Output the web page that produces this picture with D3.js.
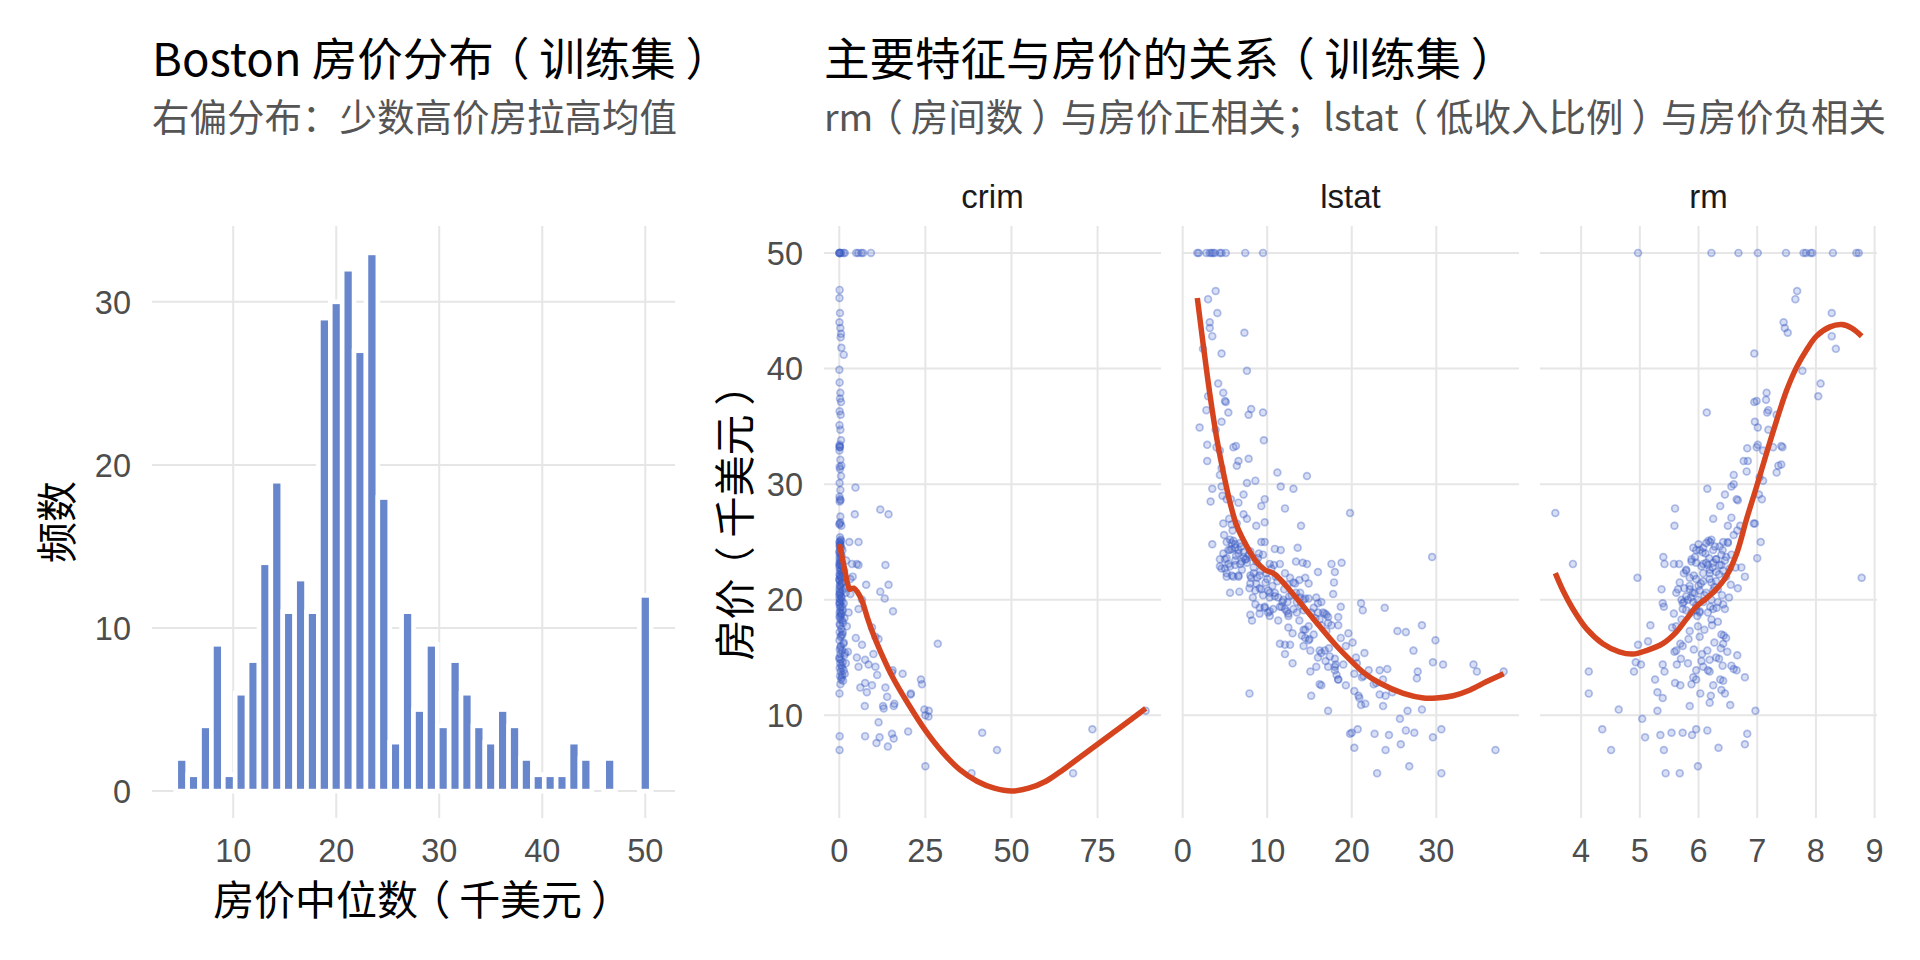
<!DOCTYPE html>
<html><head><meta charset="utf-8">
<script src="https://cdn.jsdelivr.net/npm/d3@7"></script>
<style>body{margin:0;background:#fff}svg{display:block}.pa{font-feature-settings:"palt" 1}</style>
</head><body><svg id="c" width="1920" height="960"></svg>
<script>
// ---------------- data ----------------
const histCounts = [2,1,4,9,1,6,8,14,19,11,13,11,29,30,32,27,33,18,3,11,5,9,4,8,6,4,3,5,4,2,1,1,1,3,2,0,2,0,0,12];
const histMin = 5, histMax = 50;
const histXTicks = [10,20,30,40,50];
const histYTicks = [0,10,20,30];

const facetNames = ["crim","lstat","rm"];
const crimTicks = [0,25,50,75];
const lstatTicks = [0,10,20,30];
const rmTicks = [4,5,6,7,8,9];
const priceTicks = [10,20,30,40,50];

const crimPoints = [
[0.01,50],[0.02,50],[0.06,50],[0.3,50],[0.5,50],[1.2,50],[1.6,50],[4.9,50],[5.5,50],[6.4,50],[6.9,50],[9.2,50],
[0.1,46.8],[0.05,46.1],[0.2,44.8],[0.04,44.0],[0.3,43.5],[0.5,43.0],[0.4,42.7],[0.6,41.8],[1.3,41.2],[0.02,39.9],
[0.1,38.8],[0.3,37.9],[0.2,37.4],[0.5,37.1],[0.1,36.3],[0.4,36.0],[0.06,35.1],[0.3,34.7],[0.5,33.8],[0.1,33.3],
[0.2,33.2],[0.08,33.2],[0.12,33.4],[0.04,32.9],[0.3,32.1],[0.6,31.6],[0.1,31.5],[0.2,31.3],[0.5,30.7],[0.1,30.1],
[0.3,29.5],[0.05,28.9],[0.4,28.6],[0.2,28.7],[0.1,28.5],[0.3,27.2],[0.1,26.6],[0.3,26.7],[0.05,26.5],[0.6,26.4],
[0.2,25.4],[0.5,25.1],[0.1,25.0],[0.3,24.8],
[0.1,25.0],[0.3,24.8],[0.05,24.7],[0.6,24.5],[0.2,24.4],[0.9,24.3],[0.04,24.1],[0.4,24.0],[0.15,23.9],[0.7,23.8],
[0.08,23.6],[0.25,23.4],[0.5,23.3],[0.03,23.2],[0.35,23.1],[0.12,23.0],[0.8,22.9],[0.06,22.8],[0.45,22.6],[0.18,22.5],
[1.1,22.3],[0.09,22.2],[0.3,22.0],[0.55,21.9],[0.02,21.7],[0.22,21.6],[0.65,21.4],[0.14,21.2],[0.4,21.1],[0.07,20.9],
[0.95,20.8],[0.28,20.6],[0.11,20.5],[0.5,20.3],[0.04,20.1],[0.33,20.0],[0.75,19.9],[0.16,19.7],[0.06,19.6],[0.42,19.4],
[0.2,19.3],[1.0,19.1],[0.1,18.9],[0.6,18.8],[0.27,18.6],[0.05,18.5],[0.38,18.3],[0.85,18.2],
[0.07,24.2],[0.45,23.7],[0.15,23.0],[0.6,22.4],[0.03,21.8],[0.25,21.3],[0.12,20.7],[0.7,20.2],[0.09,19.8],[0.35,19.0],
[0.5,18.7],[0.18,22.1],[0.8,21.5],[0.22,24.6],[0.4,25.2],[0.06,20.4],[1.4,22.5],[1.7,21.0],[2.0,23.4],[0.9,19.4],
[0.13,17.9],[0.6,16.9],[1.1,18.0],[0.3,15.9],[0.02,14.9],[0.7,13.3],
[0.2,17.8],[0.6,17.5],[0.1,17.2],[0.9,17.0],[0.35,16.8],[0.05,16.5],[1.2,16.2],[0.5,16.0],[0.15,15.7],[0.8,15.6],
[0.3,15.3],[1.5,15.2],[0.07,15.0],[0.45,14.8],[1.0,14.6],[0.25,14.5],[0.65,14.3],[0.12,14.1],[1.3,13.9],[0.4,13.8],
[0.9,13.5],[0.2,13.4],[0.55,13.1],[1.1,13.0],[0.3,12.7],[0.05,11.9],[0.1,8.2],[0.08,7.0],
[1.3,16.3],[1.7,15.4],[0.8,14.1],[1.9,14.5],[1.6,13.6],[2.5,15.5],[1.0,17.2],[1.5,18.4],[1.3,19.7],[1.9,20.6],
[4.7,29.7],[4.5,27.4],[11.9,27.8],[14.3,27.4],[2.9,25.0],[5.6,25.0],[5.1,23.1],[5.6,23.0],[3.7,23.1],[13.4,23.0],
[3.2,21.8],[3.9,22.0],[7.8,21.3],[14.3,21.3],[11.9,20.7],[13.2,20.1],[6.6,20.0],[3.2,20.5],[5.6,19.2],[2.7,18.9],
[15.6,19.0],[28.6,16.2],[2.2,17.7],[4.8,16.7],[6.6,16.1],[9.5,17.6],[10.5,16.8],[11.4,16.6],[5.1,15.0],[7.5,14.8],
[8.5,14.4],[9.9,15.3],[10.5,14.2],[11.0,13.5],[5.6,14.2],[6.1,12.4],[7.5,12.8],[8.0,12.0],[9.5,12.6],[13.4,12.4],
[15.3,13.7],[18.4,13.6],[20.7,11.8],[13.9,11.6],[12.9,10.6],[15.8,10.8],[7.4,10.8],[24.0,12.7],[25.0,10.0],[25.9,9.9],
[11.4,9.4],[7.5,8.2],[11.7,8.1],[15.3,8.4],[15.8,8.0],[20.0,8.6],[10.8,7.6],[14.1,7.3],[25.0,5.6],
[41.5,8.5],[45.8,7.0],[38.4,5.0],[67.9,5.0],[73.5,8.8],[88.98,10.4],[23.7,13.1],[24.7,10.5],[26.0,10.4],[20.8,11.9],
[15.5,13.9],[16.0,11.0],[12.7,10.8]
];

const lstatPoints = [
[1.73,50],[1.9,50],[2.8,50],[3.2,50],[3.4,50],[3.6,50],[3.8,50],[4.4,50],[4.6,50],[5.1,50],[7.4,50],[9.5,50],
[3.9,46.7],[3.0,46.0],[4.1,44.8],[3.2,44.0],[3.2,43.5],[3.5,42.8],[7.3,43.1],[2.4,41.7],[4.6,41.3],[7.6,39.8],
[4.2,38.7],[4.8,37.9],[5.0,37.2],[5.1,37.1],[3.0,37.6],[2.8,36.4],[5.4,36.2],[8.1,36.5],[7.8,36.0],[9.5,36.2],
[4.6,35.4],[2.0,34.9],[3.9,34.7],[9.6,33.8],[2.9,33.4],[4.0,33.2],[4.4,32.9],[6.0,33.2],[6.3,33.3],[2.9,32.0],
[6.6,32.0],[7.8,32.2],[6.4,31.6],[4.6,31.4],[4.4,30.8],[11.2,31.0],[14.7,30.7],[11.6,29.8],[13.1,29.6],[3.5,29.6],
[4.6,29.8],[7.6,30.1],[8.6,30.3],[3.3,28.5],[4.7,29.0],[7.2,29.1],[5.2,28.7],[5.7,28.7],[6.6,28.4],[9.7,28.7],
[9.3,28.1],[12.1,27.9],[19.8,27.5],[7.2,27.4],[7.6,27.0],[5.5,27.0],[4.8,26.6],[5.8,26.5],[6.4,26.6],[8.7,26.4],
[9.7,26.7],[14.0,26.4],[3.5,24.8],[5.2,25.0],[5.6,25.2],[6.0,25.1],[6.2,24.8],[6.8,24.9],[9.3,25.0],[9.7,25.0],
[13.6,24.5],[10.9,24.4],[11.6,24.3],[4.8,24.0],[5.4,24.3],[5.8,24.4],[6.6,24.3],[7.2,24.1],[8.0,24.2],[9.0,24.0],
[9.5,23.9],[4.4,23.5],[5.2,23.6],[6.2,23.4],[7.0,23.3],[7.4,23.5],[8.2,23.7],[8.7,23.3],[4.4,22.9],[5.0,22.7],
[5.6,22.9],[6.2,23.0],[6.8,23.1],[7.6,23.2],[29.5,23.7],[10.3,23.1],[10.8,23.0],[11.5,23.1],[13.4,23.3],[14.2,23.2],
[14.7,23.1],[17.6,23.1],[18.8,23.2],[16.0,22.4],[18.0,22.4],[5.2,22.0],[5.8,22.1],[6.6,22.0],[8.0,22.1],[8.4,22.3],
[9.1,22.1],[9.9,22.3],[12.1,22.3],[12.7,21.9],[13.1,21.5],[13.8,21.7],[14.5,21.9],[14.9,21.4],[17.9,21.5],[5.6,20.6],
[6.7,20.7],[8.0,21.4],[7.9,21.0],[8.6,20.8],[8.3,20.2],[9.1,21.0],[9.5,20.4],[10.1,20.8],[10.3,20.2],[10.9,20.6],
[11.3,20.2],[11.9,20.0],[12.4,19.8],[12.9,20.4],[13.4,20.6],[13.9,20.2],[14.3,20.0],[14.9,20.1],[15.8,20.2],[16.4,19.8],
[17.8,20.5],[18.7,19.4],[21.1,19.7],[21.3,19.1],[23.9,19.3],[8.6,19.6],[9.1,19.3],[9.7,19.3],[10.1,18.9],[10.7,19.2],
[11.5,19.4],[12.1,19.2],[13.1,19.2],[13.5,18.9],[14.3,19.1],[15.5,19.3],[16.0,18.9],[16.6,18.9],[17.0,18.7],[8.0,18.7],
[8.2,18.2],[9.1,18.8],[10.3,18.6],[11.3,18.2],[12.5,18.6],[16.2,18.3],[17.2,18.5],[18.4,18.5],[17.6,17.8],[12.5,17.6],
[14.3,17.4],[14.9,17.7],[18.4,17.8],[25.4,17.3],[26.4,17.2],[28.3,17.8],[19.6,17.1],[14.1,16.9],[14.5,16.7],[15.0,16.6],
[18.7,16.7],[29.9,16.5],[11.5,16.2],[12.1,16.1],[12.7,16.1],[14.3,16.0],[20.1,16.3],[12.1,15.3],[15.1,15.6],[16.2,15.6],
[16.8,15.6],[17.3,15.8],[21.5,15.4],[27.3,15.6],[16.0,15.0],[17.4,15.1],[18.0,14.9],[20.5,15.0],[13.0,14.5],[15.8,14.2],
[17.2,14.2],[18.1,14.4],[19.0,14.4],[29.6,14.6],[30.8,14.4],[34.4,14.4],[15.1,13.8],[18.0,13.9],[18.2,13.5],[20.3,13.6],
[21.2,13.3],[21.4,13.4],[23.3,13.9],[24.2,14.0],[27.8,13.8],[34.8,13.8],[37.97,13.8],[27.7,13.2],[16.2,12.7],[16.4,12.6],
[18.4,13.1],[19.3,12.6],[22.6,12.7],[22.9,12.8],[23.7,13.1],[20.3,12.1],[23.3,11.8],[24.0,11.7],[24.8,12.0],[7.9,11.9],
[15.2,11.7],[20.9,11.5],[21.1,10.9],[21.6,11.0],[23.7,10.8],[17.2,10.4],[26.6,10.4],[28.3,10.5],[25.7,9.7],[19.8,8.4],
[20.0,8.5],[20.7,8.8],[22.7,8.4],[24.4,8.3],[26.4,8.7],[27.4,8.5],[29.6,8.1],[30.6,8.8],[20.3,7.2],[24.0,7.0],
[25.8,7.5],[37.0,7.0],[26.8,5.6],[23.0,5.0],[30.6,5.0],
[5.8,24.9],[6.2,24.5],[5.6,24.3],[6.6,24.0],[7.2,23.7],[7.5,23.5],[5.0,23.5],[4.6,22.7],[5.2,22.3],[6.0,22.0],
[6.6,22.1],[8.1,21.9],[8.7,21.4],[9.3,20.9],[10.3,20.6],[10.9,20.3],[9.7,19.4],[10.3,19.0],[11.7,19.4],[12.5,18.8],
[13.3,21.4],[13.9,20.6],[14.5,20.1],[16.0,19.7],[16.8,18.8],[17.2,18.0],[14.5,17.4],[14.9,16.5],[16.4,15.4],[18.0,14.2],
[18.4,13.1],[20.8,11.7],
[6.9,24.6],[7.8,23.9],[8.4,22.8],[9.2,22.5],[10.0,21.8],[10.6,21.2],[11.2,21.6],[12.0,20.9],[12.6,20.3],[13.5,19.8],
[14.0,19.5],[15.2,18.9],[15.7,18.4],[16.4,17.8],[17.0,17.3],[9.8,21.5],[8.8,21.9],[11.8,19.8],[12.3,19.0],[13.8,18.2],
[7.0,22.6],[6.3,23.8],[5.4,23.1],[4.9,25.6],[5.9,26.0],[8.9,23.6],[10.5,22.7],[11.0,22.0],[12.4,21.3],[13.0,17.1],
[15.5,17.0],[19.3,16.0],[20.6,14.5],[22.0,13.9],[16.9,14.7]
];

const rmPoints = [
[4.97,50],[6.22,50],[6.68,50],[7.01,50],[7.49,50],[7.79,50],[7.83,50],[7.91,50],[7.94,50],[8.29,50],[8.69,50],[8.73,50],
[7.68,46.7],[7.65,46.0],[8.27,44.8],[7.45,44.0],[7.47,43.5],[7.52,43.1],[8.27,42.8],[8.34,41.7],[6.95,41.3],[7.77,39.8],
[8.08,38.7],[8.04,37.6],[7.16,37.9],[7.15,37.3],[6.99,37.2],[6.95,37.1],[6.14,36.2],[7.19,36.4],[7.17,36.2],[7.33,36.0],
[6.96,35.4],[7.01,34.9],[7.19,34.7],[6.83,33.1],[6.99,33.2],[7.01,33.4],[7.27,33.2],[7.41,33.3],[7.43,33.2],[7.10,32.9],
[6.77,32.0],[6.84,32.0],[7.36,31.6],[7.41,31.7],[6.82,31.1],[7.33,31.0],[6.60,30.8],[7.04,30.6],[6.56,29.8],[6.15,29.6],
[7.10,30.3],[6.60,30.0],[7.03,29.1],[6.65,28.7],[6.67,28.6],[7.08,28.7],[6.45,29.1],[6.37,28.1],[3.56,27.5],[5.60,27.9],
[5.59,26.4],[6.25,27.0],[6.56,27.1],[6.50,26.4],[6.71,26.4],[6.94,26.6],[6.96,26.6],[7.06,25.0],[7.00,23.6],[3.86,23.1],
[5.40,23.7],[4.96,21.9],[6.17,25.1],[6.22,25.2],[5.91,24.5],[6.02,24.3],[6.08,24.5],[6.25,24.3],[6.36,24.6],[6.42,25.0],
[6.50,25.0],[6.39,23.9],[6.47,23.7],[6.30,23.5],[6.56,23.9],[5.88,23.3],[5.96,23.2],[6.08,23.1],[6.16,23.0],[6.25,23.2],
[6.36,23.0],[5.42,23.1],[5.58,23.1],[5.67,23.1],[5.79,22.5],[5.75,22.3],[6.08,22.3],[6.19,22.3],[6.30,22.4],[6.42,22.5],
[6.53,22.7],[6.63,22.8],[6.73,22.8],[6.79,22.0],[5.85,21.9],[5.96,21.8],[6.08,21.6],[6.19,21.8],[6.30,21.6],[5.37,20.9],
[5.65,20.9],[5.76,21.0],[5.85,20.9],[5.93,20.6],[6.02,20.8],[6.13,20.6],[6.25,20.8],[6.67,21.0],[5.39,19.7],[5.41,19.4],
[5.71,20.0],[5.75,19.8],[5.82,20.0],[5.91,19.8],[5.99,20.0],[6.08,19.8],[6.22,20.0],[6.33,19.8],[6.42,19.6],[6.52,20.2],
[5.58,18.8],[5.73,19.2],[5.79,19.1],[5.88,18.9],[5.96,19.1],[6.02,18.9],[6.25,19.2],[6.45,19.2],[5.62,17.7],[5.71,18.3],
[5.99,17.7],[6.22,18.3],[6.23,17.8],[6.33,18.1],[6.39,17.0],[6.43,16.9],[6.47,16.7],[5.18,17.8],[5.55,17.6],[5.85,17.3],
[5.14,16.4],[4.97,16.1],[5.69,16.2],[5.73,16.0],[6.02,16.8],[6.42,16.2],[5.62,15.6],[5.59,15.5],[5.92,15.7],[6.15,15.6],
[6.49,15.5],[6.66,15.2],[4.93,14.6],[5.02,14.4],[5.39,14.4],[5.63,14.4],[5.82,14.5],[6.05,14.7],[6.08,14.2],[6.19,14.8],
[6.30,15.0],[6.35,14.9],[6.41,14.3],[6.56,14.3],[6.60,14.0],[4.13,13.8],[4.90,13.8],[5.42,13.8],[5.96,13.9],[6.16,13.9],
[6.19,13.8],[6.65,13.9],[5.26,13.1],[5.60,12.8],[5.69,12.6],[5.88,12.7],[5.91,13.3],[5.96,13.1],[6.25,12.6],[6.37,13.1],
[6.42,13.0],[6.79,13.3],[4.13,11.9],[5.30,12.0],[5.39,11.5],[6.03,11.9],[6.21,11.7],[6.39,12.2],[6.45,11.9],[5.85,10.8],
[6.19,11.1],[6.54,10.9],[4.64,10.5],[5.30,10.4],[6.97,10.4],[5.04,9.7],[4.36,8.8],[5.09,8.1],[5.35,8.3],[5.54,8.5],
[5.73,8.5],[5.89,8.3],[5.96,8.8],[6.15,8.7],[6.83,8.4],[4.51,7.0],[5.41,7.0],[6.34,7.2],[6.79,7.5],[5.44,5.0],
[5.68,5.0],[5.99,5.6],[8.78,21.9],
[5.85,21.2],[5.90,20.6],[5.79,20.3],[5.73,19.7],[5.96,19.5],[6.02,19.0],[6.13,23.2],[6.19,22.6],[6.30,23.5],[6.39,23.0],
[6.47,22.0],[6.22,21.5],[6.33,20.9],[6.41,24.3],[6.50,24.9],[6.07,24.1],[5.96,24.3],[5.88,23.5],[5.79,22.6],[5.68,21.5],
[5.62,20.6],[6.13,24.9],
[6.0,21.2],[6.1,20.4],[6.2,19.4],[6.27,21.1],[6.35,22.2],[6.05,22.9],[5.94,23.7],[6.12,24.0],[6.28,24.6],[6.45,23.4],
[6.55,21.3],[5.87,20.2],[5.98,18.6],[6.16,18.9],[6.31,19.3],[6.1,17.4],[5.83,16.6],[6.27,16.3],[6.06,15.3],[6.38,15.8],
[5.7,14.9],[6.0,24.8],[6.2,25.0],[6.6,25.6],[6.66,26.0],[6.04,21.4],[5.92,22.1],[6.24,22.8],[6.18,23.6],[6.4,20.4]
];

const crimCurve = [[0.006,24.8],[0.6,24.0],[1.5,22.7],[2.4,21.4],[3.0,20.9],[3.4,20.95],[4.2,21.0],[5.2,20.7],[6.6,19.9],
[8.1,18.5],[9.5,17.3],[12,15.5],[15.5,13.3],[20,11.0],[25,8.7],[30,6.8],[35,5.3],[40,4.3],[45,3.7],[50,3.45],[55,3.7],
[60,4.3],[65,5.3],[70,6.4],[75,7.5],[80,8.6],[85,9.7],[88.98,10.6]];
const lstatCurve = [[1.73,46.1],[2.44,42.0],[3.23,37.7],[4.02,34.0],[4.81,31.0],[5.6,28.4],[6.4,26.4],[7.6,24.6],[8.7,23.3],
[9.7,22.6],[10.7,22.3],[11.5,21.8],[12.7,20.8],[14.3,19.4],[16.2,17.7],[18.2,16.0],[19.8,14.8],[21.4,13.7],[23.3,12.8],
[26.1,11.9],[28.5,11.5],[30.0,11.5],[32.0,11.7],[34.0,12.2],[35.9,12.9],[37.97,13.6]];
const rmCurve = [[3.56,22.3],[3.69,20.8],[3.86,19.2],[4.09,17.5],[4.37,16.2],[4.65,15.5],[4.88,15.3],[5.11,15.6],[5.39,16.2],
[5.62,17.2],[5.79,18.3],[5.96,19.4],[6.13,20.1],[6.30,20.9],[6.47,22.0],[6.65,24.0],[6.82,27.0],[6.99,29.8],[7.16,32.7],
[7.33,35.5],[7.50,38.1],[7.67,40.1],[7.84,41.6],[8.01,42.8],[8.24,43.6],[8.44,43.8],[8.61,43.5],[8.78,42.8]];

// ---------------- styles ----------------
const CJK = "'Noto Sans CJK SC','Noto Sans',sans-serif";
const LAT = "'Liberation Sans',Arial,sans-serif";
const GRID = "#e6e6e6", GRIDW = 2;
const BAR = "#6886cc", PT = "#3b5cc4", LINE = "#d5441e";
const TICKC = "#4d4d4d";

const svg = d3.select("#c");
function expand(ext){ const r = ext[1]-ext[0]; return [ext[0]-0.05*r, ext[1]+0.05*r]; }

// writes CJK text; full-width parentheses are set proportionally and padded on both sides
// so that they sit centred in their em box (as in the reference)
function cjkText(sel, str){
  const PAD = 0.25;
  const parts = str.split(/([（）])/).filter(s => s.length);
  let carry = 0;
  parts.forEach(s => {
    const isParen = (s === "（" || s === "）");
    const t = sel.append("tspan").text(s);
    let dx = carry; carry = 0;
    if (isParen){ dx += PAD; carry = PAD; t.attr("class","pa"); }
    if (dx) t.attr("dx", dx + "em");
  });
  return sel;
}

const TOP = 226, BOTTOM = 818;

// ---------------- titles ----------------
function title(x, t, s){
  cjkText(svg.append("text").attr("x",x).attr("y",76).attr("font-family",CJK).attr("font-size",45.5).attr("fill","#000"), t);
  cjkText(svg.append("text").attr("x",x).attr("y",131).attr("font-family",CJK).attr("font-size",37.5).attr("fill","#555"), s);
}
title(152, "Boston 房价分布（训练集）", "右偏分布：少数高价房拉高均值");
title(824, "主要特征与房价的关系（训练集）", "rm（房间数）与房价正相关；lstat（低收入比例）与房价负相关");

// ---------------- histogram ----------------
{
  const n = histCounts.length;
  const bw = (histMax - histMin)/(n-1);
  const bins = histCounts.map((c,i)=>({c, x0: histMin + i*bw - bw/2, x1: histMin + i*bw + bw/2}));
  const x = d3.scaleLinear().domain(expand([bins[0].x0, bins[n-1].x1])).range([152,675]);
  const y = d3.scaleLinear().domain(expand([0, d3.max(histCounts)])).range([BOTTOM, TOP]);
  const g = svg.append("g");
  g.selectAll(".gx").data(histXTicks).join("line").attr("x1",d=>x(d)).attr("x2",d=>x(d)).attr("y1",TOP).attr("y2",BOTTOM).attr("stroke",GRID).attr("stroke-width",GRIDW);
  g.selectAll(".gy").data(histYTicks).join("line").attr("y1",d=>y(d)).attr("y2",d=>y(d)).attr("x1",152).attr("x2",675).attr("stroke",GRID).attr("stroke-width",GRIDW);
  g.selectAll("rect").data(bins).join("rect")
    .attr("x",d=>x(d.x0)).attr("width",d=>x(d.x1)-x(d.x0))
    .attr("y",d=>y(d.c)).attr("height",d=>y(0)-y(d.c))
    .attr("fill",BAR).attr("stroke","#fff").attr("stroke-width",4.6);
  g.selectAll(".xt").data(histXTicks).join("text").attr("x",d=>x(d)).attr("y",850).attr("dy","0.36em")
    .attr("text-anchor","middle").attr("font-family",LAT).attr("font-size",32.5).attr("fill",TICKC).text(d=>d);
  g.selectAll(".yt").data(histYTicks).join("text").attr("x",131).attr("y",d=>y(d)).attr("dy","0.36em")
    .attr("text-anchor","end").attr("font-family",LAT).attr("font-size",32.5).attr("fill",TICKC).text(d=>d);
  cjkText(g.append("text").attr("x",413).attr("y",915).attr("text-anchor","middle")
    .attr("font-family",CJK).attr("font-size",41).attr("fill","#000"), "房价中位数（千美元）");
  g.append("text").attr("transform","translate(57,522) rotate(-90)").attr("dy","0.36em").attr("text-anchor","middle")
    .attr("font-family",CJK).attr("font-size",41).attr("fill","#000").text("频数");
}

// ---------------- facets ----------------
{
  const allY = [...crimPoints,...lstatPoints,...rmPoints,...crimCurve,...lstatCurve,...rmCurve].map(d=>d[1]);
  const y = d3.scaleLinear().domain(expand(d3.extent(allY))).range([BOTTOM, TOP]);
  const panels = [
    {name:facetNames[0], pts:crimPoints, curve:crimCurve, ticks:crimTicks, x0:824},
    {name:facetNames[1], pts:lstatPoints, curve:lstatCurve, ticks:lstatTicks, x0:1182},
    {name:facetNames[2], pts:rmPoints, curve:rmCurve, ticks:rmTicks, x0:1540}
  ];
  const W = 337;
  panels.forEach((p,i)=>{
    const ext = d3.extent([...p.pts,...p.curve].map(d=>d[0]));
    const x = d3.scaleLinear().domain(expand(ext)).range([p.x0, p.x0+W]);
    const g = svg.append("g");
    g.selectAll(".gx").data(p.ticks).join("line").attr("x1",d=>x(d)).attr("x2",d=>x(d)).attr("y1",TOP).attr("y2",BOTTOM).attr("stroke",GRID).attr("stroke-width",GRIDW);
    g.selectAll(".gy").data(priceTicks).join("line").attr("y1",d=>y(d)).attr("y2",d=>y(d)).attr("x1",p.x0).attr("x2",p.x0+W).attr("stroke",GRID).attr("stroke-width",GRIDW);
    g.selectAll("circle").data(p.pts).join("circle").attr("cx",d=>x(d[0])).attr("cy",d=>y(d[1])).attr("r",3.4)
      .attr("fill",PT).attr("fill-opacity",0.2).attr("stroke",PT).attr("stroke-opacity",0.38).attr("stroke-width",1.7);
    g.append("path").datum(p.curve).attr("d", d3.line().x(d=>x(d[0])).y(d=>y(d[1])).curve(d3.curveCatmullRom.alpha(0.5)))
      .attr("fill","none").attr("stroke",LINE).attr("stroke-width",5.5).attr("stroke-linejoin","round");
    g.selectAll(".xt").data(p.ticks).join("text").attr("x",d=>x(d)).attr("y",850).attr("dy","0.36em")
      .attr("text-anchor","middle").attr("font-family",LAT).attr("font-size",32.5).attr("fill",TICKC).text(d=>d);
    g.append("text").attr("x",p.x0+W/2).attr("y",196).attr("dy","0.36em").attr("text-anchor","middle")
      .attr("font-family",LAT).attr("font-size",33).attr("fill","#1a1a1a").text(p.name);
    if(i===0){
      g.selectAll(".yt").data(priceTicks).join("text").attr("x",p.x0-21).attr("y",d=>y(d)).attr("dy","0.36em")
        .attr("text-anchor","end").attr("font-family",LAT).attr("font-size",32.5).attr("fill",TICKC).text(d=>d);
    }
  });
  cjkText(svg.append("text").attr("transform","translate(750,522) rotate(-90)").attr("text-anchor","middle")
    .attr("font-family",CJK).attr("font-size",41).attr("fill","#000"), "房价（千美元）");
}
</script></body></html>
